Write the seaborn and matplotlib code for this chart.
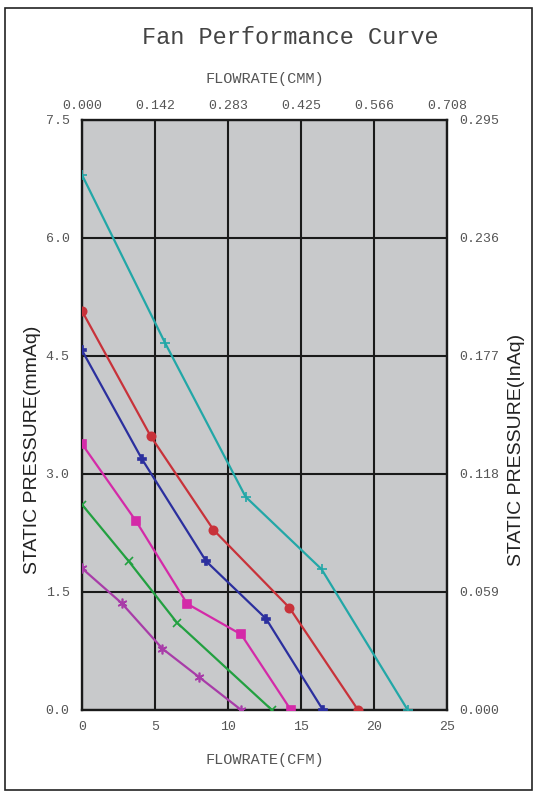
import numpy as np
import pandas as pd
import matplotlib
matplotlib.use("Agg")
import matplotlib.pyplot as plt
import seaborn as sns
from matplotlib.patches import Rectangle

# flow (CFM) and static pressure (mmAq)
cyan_x = [0.0, 5.7, 11.2, 16.4, 22.3]
cyan_y = [6.8, 4.66, 2.71, 1.79, 0.0]
red_x = [0.0, 4.7, 9.0, 14.2, 18.9]
red_y = [5.07, 3.48, 2.29, 1.30, 0.0]
blue_x = [0.0, 4.1, 8.5, 12.6, 16.5]
blue_y = [4.57, 3.19, 1.89, 1.16, 0.0]
mag_x = [0.0, 3.7, 7.2, 10.9, 14.3]
mag_y = [3.38, 2.40, 1.35, 0.96, 0.0]
green_x = [0.0, 3.2, 6.5, 13.0]
green_y = [2.61, 1.89, 1.11, 0.0]
purple_x = [0.0, 2.7, 5.5, 8.0, 10.9]
purple_y = [1.80, 1.36, 0.78, 0.42, 0.0]

cfm_ticks = [0, 5, 10, 15, 20, 25]
cmm_labels = ["0.000", "0.142", "0.283", "0.425", "0.566", "0.708"]
mmaq_ticks = [0.0, 1.5, 3.0, 4.5, 6.0, 7.5]
inaq_labels = ["0.000", "0.059", "0.118", "0.177", "0.236", "0.295"]

sns.set_theme(style="white")
plt.rcParams['font.family'] = ['Liberation Mono', 'DejaVu Sans']

fig = plt.figure(figsize=(5.4, 8), dpi=100)
ax = fig.add_axes([0.152, 0.1125, 0.676, 0.7375])
ax.set_facecolor("#c8c9cb")

series = [
    (cyan_x, cyan_y, "#22a7a7", "+", 7),
    (red_x, red_y, "#c8323a", "o", 6),
    (blue_x, blue_y, "#2b2f9e", "P", 6),
    (mag_x, mag_y, "#d42aa8", "s", 6),
    (green_x, green_y, "#22a040", "x", 6),
    (purple_x, purple_y, "#a83ca8", (6, 2, 0), 7),
]
for xs, ys, col, mk, ms in series:
    df = pd.DataFrame({"cfm": xs, "mmaq": ys})
    sns.lineplot(data=df, x="cfm", y="mmaq", ax=ax, color=col, lw=1.6,
                 marker=mk, markersize=ms, markeredgewidth=1.2,
                 markeredgecolor=col, markerfacecolor=col, zorder=3)

ax.set_xlim(0, 25)
ax.set_ylim(0, 7.5)
ax.set_xticks(cfm_ticks)
ax.set_yticks(mmaq_ticks)
ax.grid(True, color="#1a1a1a", lw=1.5)
ax.set_axisbelow(True)
for s in ax.spines.values():
    s.set_color("#1a1a1a")
    s.set_linewidth(1.7)

tick_col = "#555555"
ax.tick_params(length=0, labelsize=9.5, colors=tick_col)
ax.tick_params(axis="x", pad=8)
ax.tick_params(axis="y", pad=9)
ax.set_xticklabels([str(t) for t in cfm_ticks])
ax.set_yticklabels([f"{t:.1f}" for t in mmaq_ticks])
ax.set_xlabel("FLOWRATE(CFM)", fontsize=11, color=tick_col, labelpad=14)
ax.set_ylabel("")

top = ax.secondary_xaxis("top")
top.set_xticks(cfm_ticks)
top.set_xticklabels(cmm_labels)
top.tick_params(length=0, labelsize=9.5, colors=tick_col, pad=6)
top.set_xlabel("FLOWRATE(CMM)", fontsize=11, color=tick_col, labelpad=12)
for s in top.spines.values():
    s.set_visible(False)

right = ax.secondary_yaxis("right")
right.set_yticks(mmaq_ticks)
right.set_yticklabels(inaq_labels)
right.tick_params(length=0, labelsize=9.5, colors=tick_col, pad=9)
for s in right.spines.values():
    s.set_visible(False)

# side titles sit a little below the plot centre in the original
fig.text(0.061, 0.4375, "STATIC PRESSURE(mmAq)", rotation=90, ha="center", va="center",
         fontsize=14, color="#222222", family="Liberation Sans")
fig.text(0.957, 0.4375, "STATIC PRESSURE(InAq)", rotation=90, ha="center", va="center",
         fontsize=14, color="#222222", family="Liberation Sans")

fig.text(0.537, 0.953, "Fan Performance Curve", ha="center", va="center",
         fontsize=17, color="#444444")

fig.patches.append(Rectangle((0.01, 0.013), 0.975, 0.977, transform=fig.transFigure,
                             fill=False, edgecolor="#222222", lw=1.2))

fig.savefig("out.png", dpi=100)
